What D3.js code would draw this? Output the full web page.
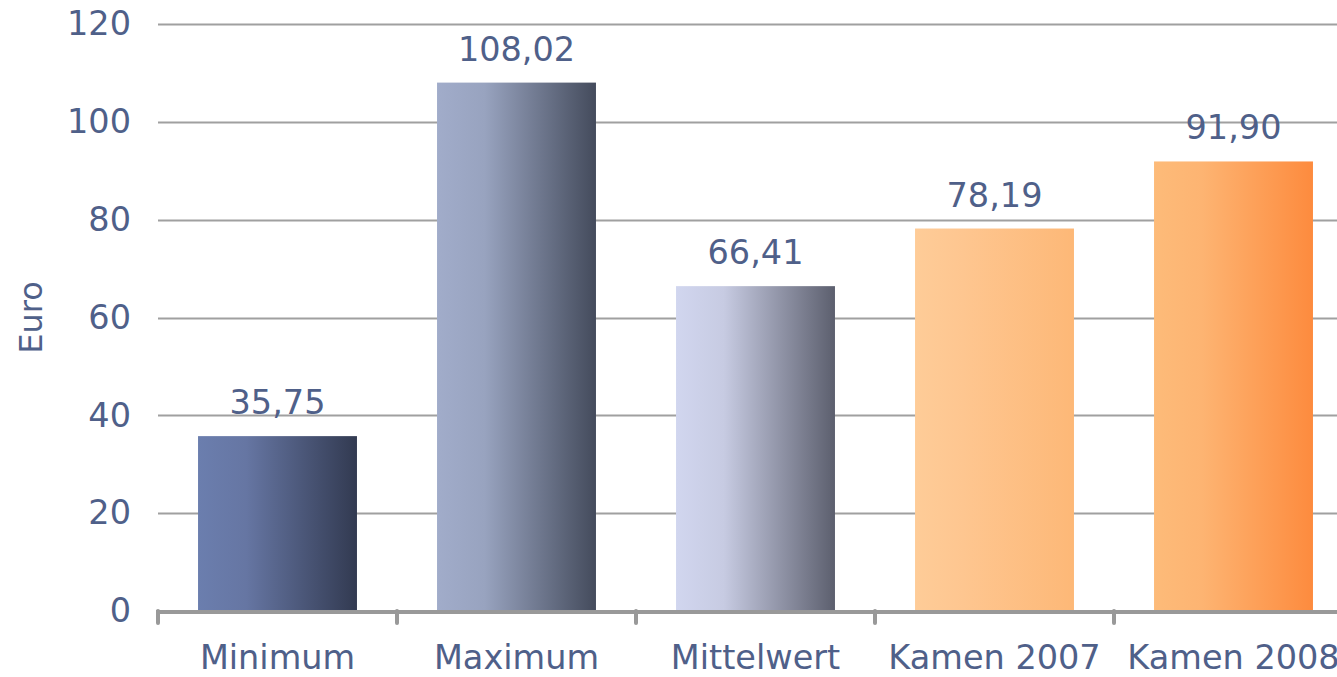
<!DOCTYPE html>
<html>
<head>
<meta charset="utf-8">
<script src="https://cdn.jsdelivr.net/npm/d3@7"></script>
<style>
  html, body { margin: 0; padding: 0; background: #fff; }
  svg { display: block; }
  text { font-family: "DejaVu Sans", Verdana, sans-serif; fill: #4f6089; }
</style>
</head>
<body>
<svg id="chart" width="1337" height="677"></svg>
<script>
// Chart data
const categories = ["Minimum", "Maximum", "Mittelwert", "Kamen 2007", "Kamen 2008"];
const values = [35.75, 108.02, 66.41, 78.19, 91.90];
const valueLabels = ["35,75", "108,02", "66,41", "78,19", "91,90"];
const yTicks = [0, 20, 40, 60, 80, 100, 120];
const yTitle = "Euro";

// Gradient stops per bar: [left, middle, right]
const barGradients = [
  ["#6b7eae", "#6676a3", "#323a51"],
  ["#a1acca", "#98a3bf", "#444b5c"],
  ["#d1d6ef", "#c7cbe2", "#5c5f6e"],
  ["#fecc98", "#fec690", "#fdb877"],
  ["#fdbb79", "#fdb472", "#fd8b3e"]
];

const svg = d3.select("#chart");
const margin = { left: 158, top: 24, bottom: 66 };
const bandStep = 239;
const plotRight = margin.left + bandStep * categories.length;
const height = 677;
const fontSize = "33.5px";

const x = d3.scaleBand()
  .domain(categories)
  .range([margin.left, plotRight])
  .paddingInner(0.335)
  .paddingOuter(0.1675);

const y = d3.scaleLinear()
  .domain([0, 120])
  .range([height - margin.bottom, margin.top]);

// Gradient definitions
const defs = svg.append("defs");
barGradients.forEach((stops, i) => {
  const g = defs.append("linearGradient")
    .attr("id", "bar-grad-" + i)
    .attr("x1", "0%").attr("x2", "100%")
    .attr("y1", "0%").attr("y2", "0%");
  g.append("stop").attr("offset", "0%").attr("stop-color", stops[0]);
  g.append("stop").attr("offset", "30%").attr("stop-color", stops[1]);
  g.append("stop").attr("offset", "100%").attr("stop-color", stops[2]);
});

// Horizontal gridlines
svg.append("g")
  .selectAll("line")
  .data(yTicks.filter(t => t > 0))
  .join("line")
  .attr("x1", margin.left)
  .attr("x2", plotRight)
  .attr("y1", d => Math.round(y(d)) + 0.5)
  .attr("y2", d => Math.round(y(d)) + 0.5)
  .attr("stroke", "#a0a0a0")
  .attr("stroke-width", 2);

// Y axis labels
const yAxis = d3.axisLeft(y).tickValues(yTicks).tickSize(0).tickPadding(27);
svg.append("g")
  .attr("transform", `translate(${margin.left},0)`)
  .call(yAxis)
  .call(g => g.select(".domain").remove())
  .call(g => g.selectAll("text")
    .style("font-size", fontSize)
    .style("font-family", "'DejaVu Sans', Verdana, sans-serif")
    .attr("fill", "#4f6089"));

// Bars
svg.append("g")
  .selectAll("rect")
  .data(values)
  .join("rect")
  .attr("x", (d, i) => x(categories[i]))
  .attr("width", x.bandwidth())
  .attr("y", d => y(d))
  .attr("height", d => y(0) - y(d))
  .attr("fill", (d, i) => `url(#bar-grad-${i})`);

// Value labels
svg.append("g")
  .selectAll("text")
  .data(values)
  .join("text")
  .attr("x", (d, i) => x(categories[i]) + x.bandwidth() / 2)
  .attr("y", d => y(d) - 22)
  .attr("text-anchor", "middle")
  .style("font-size", fontSize)
  .text((d, i) => valueLabels[i]);

// X axis with category separators
const xAxisY = y(0);
const xg = svg.append("g");
xg.append("line")
  .attr("x1", margin.left - 2)
  .attr("x2", plotRight)
  .attr("y1", xAxisY + 1)
  .attr("y2", xAxisY + 1)
  .attr("stroke", "#999")
  .attr("stroke-width", 4);
xg.selectAll("line.sep")
  .data(d3.range(categories.length + 1))
  .join("line")
  .attr("class", "sep")
  .attr("x1", i => margin.left + i * bandStep)
  .attr("x2", i => margin.left + i * bandStep)
  .attr("y1", xAxisY)
  .attr("y2", xAxisY + 12)
  .attr("stroke", "#999")
  .attr("stroke-width", 4)
  .attr("stroke-linecap", "round");

xg.selectAll("text")
  .data(categories)
  .join("text")
  .attr("x", d => x(d) + x.bandwidth() / 2)
  .attr("y", xAxisY + 58)
  .attr("text-anchor", "middle")
  .style("font-size", fontSize)
  .text(d => d);

// Y axis title
svg.append("text")
  .attr("transform", `translate(42, ${y(60)}) rotate(-90)`)
  .attr("text-anchor", "middle")
  .style("font-size", "32px")
  .text(yTitle);
</script>
</body>
</html>
